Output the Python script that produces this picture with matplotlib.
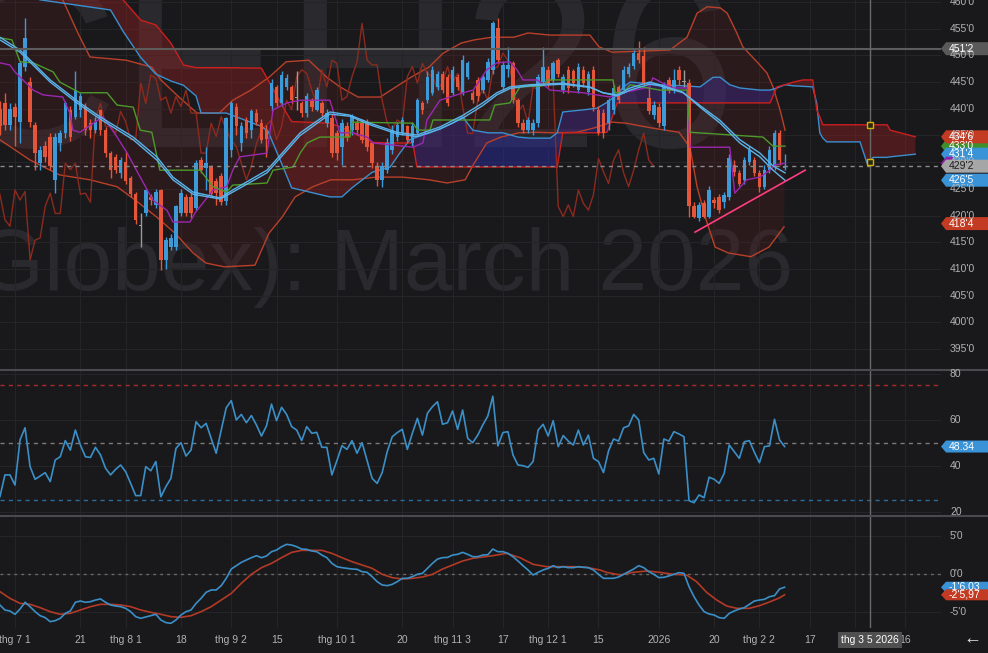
import numpy as np
import matplotlib
matplotlib.use("Agg")
import matplotlib.pyplot as plt
from matplotlib.patches import Polygon
from matplotlib.lines import Line2D
from matplotlib.transforms import IdentityTransform, blended_transform_factory

plt.rcParams['font.family'] = ['Liberation Sans', 'DejaVu Sans']

# ---------------- data (bar index 0 = 1 Jul 2025, trading days) ----------------
bar_start = -3
opn = [440.0, 441.0, 437.0, 440.4, 437.6, 447.9, 445.0, 437.0, 429.8, 433.0,
       434.8, 426.7, 433.5, 435.4, 439.8, 438.5, 439.8, 440.4, 437.3, 436.0,
       439.8, 436.0, 431.7, 431.0, 427.9, 430.0, 427.0, 424.0, 418.2, 420.4,
       423.5, 422.0, 424.8, 411.7, 414.2, 414.2, 420.4, 423.5, 423.5, 421.4,
       430.5, 429.0, 429.2, 426.5, 427.5, 422.7, 432.3, 440.4, 433.5, 437.9,
       436.0, 439.2, 437.3, 436.0, 440.5, 444.1, 441.0, 444.1, 444.1, 442.0,
       441.0, 439.2, 441.6, 439.8, 441.0, 437.3, 438.2, 435.4, 432.9, 436.7,
       436.0, 437.3, 437.3, 437.3, 433.5, 429.2, 426.7, 428.5, 432.3, 434.8,
       435.4, 436.7, 433.5, 435.4, 441.0, 441.6, 442.9, 444.1, 446.6, 446.0,
       442.9, 446.0, 442.9, 446.0, 442.9, 445.4, 443.5, 445.4, 447.3, 455.1,
       444.1, 447.5, 448.5, 441.6, 437.3, 436.0, 436.0, 437.3, 445.1, 447.3,
       445.4, 449.1, 443.5, 447.3, 447.0, 443.5, 447.3, 443.2, 447.3, 439.8,
       439.2, 437.3, 439.8, 444.1, 443.5, 446.6, 448.0, 450.4, 449.8, 442.0,
       438.8, 440.4, 436.7, 445.4, 443.5, 447.3, 445.0, 444.8, 421.7, 419.5,
       422.3, 419.8, 422.9, 423.5, 422.5, 423.5, 429.5, 427.9, 426.7, 430.0,
       430.4, 427.9, 425.4, 428.5, 429.2, 435.4, 428.9]
high = [441.5, 443.0, 441.0, 441.0, 449.0, 457.0, 446.0, 437.5, 433.0, 434.0,
        435.5, 435.5, 436.0, 441.5, 440.5, 447.0, 443.0, 441.0, 438.0, 438.5,
        440.0, 436.5, 432.0, 431.5, 431.0, 432.0, 427.5, 424.5, 420.4, 425.0,
        424.0, 425.0, 425.0, 416.0, 416.5, 422.0, 425.0, 424.0, 424.5, 430.5,
        431.0, 432.9, 429.5, 427.0, 428.0, 438.5, 441.5, 441.0, 437.5, 438.5,
        440.0, 440.0, 438.0, 437.0, 445.5, 444.5, 447.0, 446.5, 444.5, 447.0,
        441.5, 443.0, 442.0, 444.0, 441.5, 440.0, 439.0, 436.0, 438.0, 437.5,
        439.0, 438.0, 438.0, 438.0, 434.0, 430.0, 430.0, 434.5, 437.0, 437.5,
        438.5, 437.0, 437.5, 442.0, 441.5, 447.0, 448.0, 447.0, 447.0, 446.5,
        448.0, 446.5, 450.0, 449.0, 443.5, 446.0, 446.5, 449.5, 456.5, 457.0,
        449.0, 451.6, 449.0, 442.0, 438.0, 438.5, 438.0, 446.5, 451.6, 448.0,
        449.0, 449.5, 446.5, 448.0, 447.5, 448.5, 448.0, 447.0, 448.0, 440.5,
        440.0, 442.0, 444.5, 444.5, 448.0, 448.5, 451.0, 452.6, 451.5, 444.0,
        441.5, 441.0, 445.0, 446.0, 447.5, 448.0, 447.3, 445.5, 422.5, 422.5,
        423.0, 425.5, 423.5, 424.0, 424.5, 431.5, 430.5, 428.5, 431.0, 433.0,
        431.0, 428.5, 429.5, 433.0, 436.0, 436.0, 431.5]
low = [435.0, 436.0, 436.0, 433.0, 433.5, 447.0, 436.5, 428.5, 428.5, 430.0,
       428.5, 424.2, 432.0, 434.5, 434.0, 438.0, 438.5, 435.0, 434.5, 435.5,
       435.0, 431.0, 427.0, 428.0, 427.0, 426.0, 423.5, 418.5, 414.2, 420.0,
       422.0, 421.5, 409.8, 410.0, 413.5, 413.5, 420.0, 420.0, 419.5, 421.0,
       428.0, 424.8, 423.5, 422.0, 422.0, 422.0, 431.0, 435.0, 432.0, 434.5,
       434.5, 437.0, 433.5, 431.0, 439.5, 440.5, 440.5, 443.5, 441.0, 439.8,
       438.5, 438.5, 439.5, 439.5, 438.5, 436.5, 431.0, 430.5, 429.5, 434.0,
       435.0, 435.0, 433.5, 432.0, 429.0, 425.5, 425.4, 428.0, 431.5, 434.0,
       435.0, 433.5, 433.0, 435.0, 439.0, 441.0, 442.5, 443.5, 443.0, 440.5,
       442.5, 443.5, 442.5, 445.5, 441.0, 441.5, 443.0, 445.0, 446.5, 448.5,
       443.5, 446.0, 441.0, 436.5, 435.5, 435.5, 435.0, 436.5, 444.5, 444.0,
       445.0, 446.0, 443.0, 443.0, 444.0, 443.0, 444.0, 442.5, 439.5, 435.0,
       434.5, 436.0, 439.0, 441.0, 443.0, 446.0, 447.5, 448.5, 444.5, 439.0,
       438.0, 436.5, 436.0, 443.0, 443.0, 444.5, 444.0, 419.8, 419.5, 419.0,
       419.5, 419.5, 421.5, 420.5, 421.5, 423.0, 427.5, 425.5, 426.0, 429.5,
       427.5, 424.5, 425.0, 428.0, 428.5, 429.5, 428.5]
close = [436.7, 437.0, 440.0, 438.5, 448.5, 453.2, 437.6, 431.7, 432.3, 431.0,
         429.2, 434.8, 435.4, 441.0, 434.8, 443.5, 442.3, 436.0, 436.0, 437.6,
         436.0, 431.7, 428.5, 428.5, 430.5, 426.5, 424.0, 419.2, 418.0, 424.8,
         422.9, 424.5, 411.7, 415.4, 415.8, 421.7, 424.2, 420.4, 420.4, 429.8,
         428.6, 429.8, 424.0, 424.2, 422.5, 438.2, 441.0, 436.7, 436.7, 435.4,
         439.5, 437.6, 434.2, 434.3, 444.8, 441.0, 446.3, 445.7, 441.6, 442.2,
         439.2, 442.3, 440.4, 443.5, 439.2, 439.2, 431.7, 431.7, 437.3, 434.8,
         438.5, 436.0, 434.2, 432.9, 429.8, 426.7, 429.2, 433.5, 436.0, 437.0,
         437.9, 434.2, 436.7, 441.6, 439.8, 446.0, 447.3, 446.6, 443.5, 441.0,
         447.3, 444.1, 449.1, 448.5, 441.6, 442.3, 446.0, 448.8, 456.0, 449.1,
         448.2, 448.2, 441.6, 437.3, 436.0, 437.9, 437.3, 446.0, 447.9, 444.8,
         448.5, 446.6, 446.0, 443.8, 444.8, 447.9, 444.8, 446.6, 440.4, 435.4,
         435.4, 441.6, 443.8, 441.6, 447.3, 447.9, 450.4, 449.1, 444.8, 439.5,
         440.7, 437.3, 444.1, 443.5, 445.4, 445.4, 445.2, 421.7, 419.8, 422.0,
         419.8, 424.8, 422.3, 421.0, 423.9, 430.7, 428.2, 426.0, 430.4, 432.3,
         428.0, 425.4, 428.5, 432.3, 435.4, 430.4, 429.25]

rsi = [26.5, 36.0, 36.0, 31.6, 51.2, 56.5, 39.6, 34.1, 35.5, 37.0,
       33.1, 42.5, 43.9, 50.9, 46.8, 55.5, 49.0, 43.9, 43.6, 48.0,
       44.7, 38.9, 36.0, 38.4, 40.3, 37.4, 32.3, 27.0, 27.0, 39.6,
       37.8, 41.8, 26.5, 30.9, 34.5, 47.5, 50.0, 44.2, 46.8, 59.1,
       56.5, 58.4, 51.9, 45.4, 55.5, 65.2, 68.3, 59.9, 62.3, 58.7,
       61.8, 57.7, 52.9, 57.3, 66.8, 59.6, 65.4, 62.3, 57.0, 55.5,
       50.9, 57.0, 54.1, 54.5, 48.0, 48.0, 36.0, 42.2, 48.7, 47.1,
       50.9, 45.4, 50.0, 42.2, 34.5, 32.3, 37.0, 46.1, 52.6, 54.4,
       55.8, 47.1, 54.1, 60.6, 53.3, 62.8, 65.7, 67.8, 58.0, 58.7,
       63.8, 55.8, 64.2, 51.9, 50.0, 53.3, 57.7, 61.6, 70.2, 48.6,
       54.4, 54.8, 44.7, 40.3, 40.0, 39.3, 41.8, 55.5, 58.0, 52.9,
       59.6, 48.3, 53.1, 50.7, 49.0, 55.5, 49.0, 53.3, 43.2, 41.8,
       37.0, 46.4, 51.6, 50.7, 56.5, 57.3, 62.3, 59.9, 45.7, 42.5,
       43.2, 36.4, 51.6, 50.7, 54.8, 53.8, 52.6, 24.8, 23.9, 27.3,
       26.1, 35.0, 34.1, 32.3, 36.7, 49.0, 46.1, 43.2, 50.4, 50.9,
       45.8, 41.3, 48.3, 48.6, 60.2, 51.2, 48.34]

macd = [-4.10, -4.76, -4.89, -5.33, -4.63, -3.74, -4.32, -4.98, -5.51, -5.77,
        -6.30, -6.17, -5.86, -5.20, -4.89, -3.74, -3.57, -3.74, -3.66, -3.44,
        -3.30, -3.74, -4.10, -4.23, -4.32, -4.54, -4.98, -5.64, -5.86, -5.68,
        -5.51, -5.33, -6.08, -6.43, -6.52, -6.08, -5.42, -4.98, -4.76, -3.88,
        -3.22, -2.42, -2.11, -2.11, -1.54, -0.57, 0.66, 1.10, 1.54, 1.85,
        2.16, 2.42, 2.16, 2.38, 2.95, 3.17, 3.61, 3.92, 3.83, 3.61,
        3.30, 3.26, 3.04, 2.95, 2.51, 2.16, 1.41, 0.97, 0.84, 0.75,
        0.66, 0.62, 0.31, 0.22, -0.35, -1.01, -1.45, -1.54, -1.37, -1.01,
        -0.57, -0.57, -0.35, -0.04, 0.09, 0.75, 1.41, 1.98, 2.16, 2.20,
        2.51, 2.60, 2.86, 2.60, 2.29, 2.29, 2.51, 2.55, 3.30, 2.95,
        2.95, 2.73, 2.29, 1.72, 1.10, 0.53, -0.13, 0.22, 0.53, 0.75,
        1.10, 0.84, 0.97, 0.84, 0.84, 0.97, 0.88, 0.84, 0.53, -0.04,
        -0.57, -0.57, -0.57, -0.40, -0.04, 0.31, 0.66, 1.10, 0.84, 0.31,
        -0.04, -0.48, -0.44, -0.26, -0.04, 0.18, 0.09, -1.67, -3.00, -4.10,
        -4.98, -5.29, -5.42, -5.77, -5.86, -5.20, -4.89, -4.63, -4.45, -4.01,
        -3.57, -3.44, -3.35, -3.00, -2.86, -1.98, -1.75]

signal_x = [-3, -1, 1, 3, 5, 7, 9, 11, 13, 15, 17, 19, 21, 23, 25, 27, 29, 31, 33, 35,
            37, 39, 41, 43, 45, 47, 49, 51, 53, 55, 57, 59, 61, 63, 65, 67, 69, 71, 73, 75,
            77, 79, 81, 83, 85, 87, 89, 91, 93, 95, 97.7, 100.4, 103, 105.7, 108.3, 111,
            113.6, 116.3, 117.6, 120.3, 122.9, 125.6, 128.2, 130.9, 133.5, 135.5, 137.5,
            139.5, 141.5, 143.5, 146, 148, 150, 152, 153]
signal = [-2.33, -3.22, -3.88, -4.01, -4.45, -4.98, -5.33, -5.20, -4.76, -4.32, -4.01, -4.01,
          -4.10, -4.32, -4.76, -5.07, -5.33, -5.64, -5.73, -5.51, -4.98, -4.32, -3.44, -2.56,
          -1.23, -0.04, 0.84, 1.41, 2.16, 2.86, 3.13, 3.13, 3.13, 2.73, 2.16, 1.63, 1.19, 0.75,
          -0.04, -0.48, -0.66, -0.57, -0.40, -0.04, 0.66, 1.19, 1.72, 2.07, 2.25, 2.42, 2.73,
          2.16, 1.28, 0.97, 0.97, 0.97, 0.88, 0.53, 0.22, -0.13, 0.22, 0.40, 0.22, -0.04, -0.13,
          -1.01, -2.42, -3.44, -4.23, -4.54, -4.54, -4.19, -3.70, -3.15, -2.75]

# Ichimoku cloud (already displaced 26 bars forward)
cloud_x = [-3, 5, 19, 21, 21.5, 25, 28, 31, 33.5, 36, 37, 42, 49, 50.3, 53.3, 55, 62.6, 65,
           67, 71, 74.6, 76.5, 78.5, 79.1, 79.9, 82.5, 87, 89, 91, 94, 97, 100, 102.4, 106.4,
           107.8, 108.9, 113, 115.7, 117.7, 119.7, 121, 122.3, 128.2, 133, 136.2, 138.8,
           140.2, 142.1, 144.1, 148.1, 150.1, 151.5, 153.1, 154.7, 156.7, 158.6, 159.4, 160,
           160.6, 161.4, 168, 169.4, 170.6, 173.4, 174, 179]
senkou_a = [463.0, 460.4, 458.5, 455.3, 454.5, 449.6, 446.5, 445.2, 444.4, 442.4, 439.2,
            439.2, 436.7, 435.8, 429.1, 425.2, 423.5, 423.5, 425.2, 428.1, 429.1, 431.7,
            434.2, 434.4, 434.7, 435.5, 437.3, 438.5, 436.0, 435.5, 435.5, 434.7, 434.5,
            434.5, 435.5, 439.4, 439.8, 440.1, 441.2, 442.6, 444.1, 445.0, 444.5, 444.3,
            444.1, 445.9, 445.9, 444.5, 443.9, 443.5, 443.5, 443.9, 444.5, 444.3, 444.2,
            444.1, 441.0, 435.5, 434.5, 433.8, 433.8, 429.8, 430.9, 430.9, 431.0, 431.5]
senkou_b = [470.0, 468.0, 462.0, 460.9, 460.4, 456.6, 455.7, 452.3, 448.2, 447.7, 447.7,
            447.7, 447.6, 445.4, 440.3, 437.6, 437.3, 436.5, 435.6, 433.7, 433.6, 433.6,
            433.6, 433.6, 429.1, 429.1, 429.1, 429.1, 429.1, 429.1, 429.1, 429.1, 429.1,
            429.1, 429.1, 435.5, 435.5, 435.5, 435.6, 441.1, 441.1, 441.1, 441.1, 441.1,
            441.1, 441.1, 441.1, 441.1, 441.1, 441.1, 441.1, 444.1, 444.5, 445.0, 445.4,
            445.4, 439.8, 438.5, 437.0, 437.0, 437.0, 437.0, 437.0, 437.0, 436.0, 434.75]

tenkan_x = [-3, -1, 0, 3.6, 5.6, 9.5, 10.9, 11.5, 12.9, 17.5, 20.3, 22.3, 24.9, 27.4, 30.2,
            31.4, 34.8, 35.8, 39.4, 42.1, 43.3, 44.7, 50.1, 51.3, 54.1, 56.7, 62.6, 64.6, 67.2,
            70.0, 71.2, 79.1, 81.1, 81.9, 84.5, 89.1, 91.1, 93.8, 95.8, 98.4, 99.8, 101.0,
            103.8, 106.4, 112.9, 118.3, 120.9, 126.2, 126.8, 128.8, 130.8, 133.6, 134.2, 142.1,
            143.1, 145.5, 148.1, 150.1, 151.1, 153.1]
tenkan = [448.6, 448.2, 446.9, 443.5, 442.6, 442.2, 439.2, 436.0, 435.6, 438.5, 434.7, 431.7,
          427.2, 422.9, 421.0, 418.8, 418.8, 420.5, 424.8, 425.4, 428.5, 431.0, 431.7, 439.8,
          441.1, 441.6, 441.6, 435.5, 435.5, 434.7, 433.6, 432.8, 433.6, 437.9, 441.6, 443.0,
          443.5, 447.3, 448.6, 448.8, 447.3, 445.4, 445.4, 443.5, 443.0, 442.2, 443.0, 444.1,
          445.8, 444.8, 443.9, 443.9, 432.8, 432.8, 424.2, 426.7, 427.2, 428.5, 429.5, 429.8]

kijun_x = [-3, -0.6, 1.0, 3.6, 7.6, 8.9, 12.9, 18.3, 20.3, 23.5, 24.9, 27.2, 28.8, 36.8, 39.4,
           42.1, 43.3, 50.1, 51.3, 55.3, 56.7, 58.1, 60.6, 66.6, 67.0, 79.1, 80.1, 82.5, 83.1,
           94.4, 95.4, 98.4, 100.4, 105.0, 105.8, 118.9, 119.3, 120.9, 122.3, 128.2, 133.6,
           134.2, 148.7, 150.7, 153.1]
kijun = [453.3, 452.9, 448.8, 448.6, 446.9, 445.0, 443.0, 443.0, 440.7, 440.3, 436.0, 435.6,
         428.5, 428.5, 425.4, 424.4, 425.7, 426.1, 428.5, 429.1, 431.7, 433.6, 434.7, 434.7,
         437.5, 437.3, 436.0, 436.0, 437.9, 437.9, 440.7, 441.1, 444.1, 444.3, 445.4, 445.4,
         443.0, 443.0, 444.5, 443.5, 443.5, 435.6, 434.7, 433.0, 433.0]

ma_x = [-3, 1, 7, 12.9, 16.9, 23.5, 28.2, 31.4, 35.4, 40.8, 43.3, 50.1, 56.7, 62.6, 66.6, 70.6,
        75.9, 79.9, 84.5, 89.1, 93, 95.8, 98.4, 102.4, 108.9, 114.3, 116.9, 119.7, 122.3,
        126.2, 128.2, 132.8, 136.2, 140.2, 144.1, 148.1, 150.7, 153.1]
ma_fast = [453.4, 451.0, 445.4, 441.1, 438.5, 434.7, 431.0, 427.2, 424.4, 423.3, 424.8, 428.5,
           435.5, 439.4, 438.8, 437.3, 435.6, 435.1, 436.6, 438.8, 441.1, 443.0, 444.1, 444.5,
           444.8, 444.1, 443.0, 442.6, 443.9, 445.0, 444.5, 443.1, 440.3, 437.3, 433.6, 431.0,
           428.5, 426.6]
ma_slow = [452.9, 450.6, 445.0, 440.7, 438.1, 434.2, 430.4, 426.7, 424.0, 423.1, 424.4, 428.0,
           435.0, 439.0, 438.6, 437.0, 435.3, 434.8, 436.2, 438.3, 440.6, 442.6, 443.8, 444.3,
           444.6, 444.0, 443.0, 442.4, 443.5, 444.6, 444.3, 443.0, 440.6, 437.8, 434.2, 431.7,
           429.3, 428.0]

bb_up_x = [-3, 9.5, 12.5, 14.9, 22.1, 27.2, 29.0, 32.6, 36.2, 40.6, 43.3, 46.9, 50.5, 53.9,
           58.4, 62.0, 64.6, 68.2, 72.6, 78.7, 82.3, 85.1, 88.7, 91.3, 94.8, 99.2, 102.0, 106.4,
           114.3, 116.1, 118.7, 130.2, 133.6, 135.6, 137.6, 140.2, 141.6, 143.5, 144.7, 147.7,
           149.5, 150.7, 152.1, 153.1]
bb_up = [464.0, 460.4, 454.2, 449.7, 449.1, 447.8, 445.4, 442.2, 439.2, 439.2, 441.6, 443.5,
         445.9, 448.8, 449.1, 445.9, 444.1, 442.2, 442.2, 445.9, 447.8, 450.4, 452.3, 452.9,
         453.4, 453.4, 454.2, 453.8, 453.8, 451.6, 450.6, 451.0, 453.4, 457.9, 459.1, 458.9,
         457.9, 454.2, 451.6, 448.6, 446.7, 444.1, 439.8, 436.0]
bb_lo_x = [-3, 3.0, 8.9, 14.9, 20.3, 23.9, 28.2, 31.8, 35.4, 38.0, 41.6, 47.7, 50.5, 53.1,
           55.7, 59.2, 62.8, 67.2, 71.8, 77.0, 82.3, 85.9, 89.5, 91.3, 93.8, 96.6, 100.2,
           103.6, 107.2, 111.7, 115.1, 118.7, 121.5, 126.6, 132.0, 134.2, 135.6, 137.4, 139.2,
           141.8, 146.3, 149.9, 152.9]
bb_lo = [434.2, 430.4, 427.6, 426.7, 425.4, 422.9, 419.7, 416.7, 413.0, 411.1, 410.4, 410.7,
         416.7, 419.7, 423.5, 425.4, 426.7, 426.7, 427.2, 427.2, 426.7, 426.1, 426.7, 429.8,
         433.6, 434.7, 435.5, 435.6, 435.5, 435.6, 436.4, 437.5, 437.3, 436.4, 435.6, 432.8,
         425.4, 419.2, 414.1, 413.0, 412.3, 414.1, 417.9]

trend_x = [135.2, 157.1]
trend_y = [416.9, 428.5]

date_ticks = [0, 13, 22, 33, 43, 52, 64, 77, 87, 97, 106, 116, 128, 139, 148, 158, 167, 177]
date_labels = ['thg 7 1', '21', 'thg 8 1', '18', 'thg 9 2', '15', 'thg 10 1', '20',
               'thg 11 3', '17', 'thg 12 1', '15', '2026', '20', 'thg 2 2', '17',
               '', '16']
cross_x = 170
cross_price = 451.25
last_price = 429.25

# ---------------- style ----------------
W, H = 988, 653
PLOT_R = 941
BG = '#19191c'
GRID = '#252528'
TXT = '#b2b2b2'
UP, DOWN, DOJI = '#3d9ad9', '#e4553a', '#9a9a9a'

fig = plt.figure(figsize=(W / 100, H / 100), dpi=100)
fig.patch.set_facecolor(BG)


def panel(top, bottom):
    a = fig.add_axes([0, 1 - bottom / H, PLOT_R / W, (bottom - top) / H])
    a.set_facecolor(BG)
    for s in a.spines.values():
        s.set_visible(False)
    a.tick_params(length=0, labelleft=False, labelbottom=False)
    a.set_xlim(-2.98, 184.1)
    a.set_xticks(date_ticks)
    a.set_axisbelow(True)
    a.grid(True, color=GRID, lw=0.8)
    a.axvline(cross_x, color='#6a6a6a', lw=1, zorder=6)
    return a


ax = panel(0, 370)
ax_rsi = panel(370, 516)
ax_macd = panel(516, 628)

ax.set_ylim(391.08, 460.37)
price_ticks = np.arange(395, 461, 5)
ax.set_yticks(price_ticks)
ax_rsi.set_ylim(18.13, 81.61)
ax_rsi.set_yticks([20, 40, 60, 80])
ax_macd.set_ylim(-7.14, 7.67)
ax_macd.set_yticks([-5, 0, 5])

# watermark
WM = '#2a2a2e'
ax.text(737 / PLOT_R, (370 - 147) / 370, 'ZCEH26', transform=ax.transAxes, ha='right',
        va='baseline', fontsize=178, color=WM, zorder=0.2)
ax.text(793 / PLOT_R, (370 - 290) / 370, 'Corn (CBOT Globex): March 2026',
        transform=ax.transAxes, ha='right', va='baseline', fontsize=63, color=WM, zorder=0.2)

# ichimoku cloud
cx = np.array(cloud_x)
sa = np.array(senkou_a)
sb = np.array(senkou_b)
ax.fill_between(cx, sa, sb, where=sa >= sb, interpolate=True, color='#2a2a9c', alpha=0.5,
                lw=0, zorder=1)
ax.fill_between(cx, sa, sb, where=sa < sb, interpolate=True, color='#8a1f1f', alpha=0.45,
                lw=0, zorder=1)

# bollinger bands
ax.fill(np.r_[bb_up_x, bb_lo_x[::-1]], np.r_[bb_up, bb_lo[::-1]], color='#6a2020',
        alpha=0.22, lw=0, zorder=1.1)
ax.plot(bb_up_x, bb_up, color='#b8402a', lw=1, zorder=2)
ax.plot(bb_lo_x, bb_lo, color='#b8402a', lw=1, zorder=2)

# chikou span: closes shifted back 26 bars
idx = np.arange(bar_start, bar_start + len(close))
ax.plot(idx - 26, close, color='#8c2a1e', lw=1, zorder=2)

ax.plot(cx, sa, color='#3a8fd0', lw=1, zorder=2.2)
ax.plot(cx, sb, color='#cc1f1f', lw=1, zorder=2.2)

# candles
o = np.array(opn)
c = np.array(close)
cols = np.where(np.abs(c - o) < 0.3, DOJI, np.where(c > o, UP, DOWN))
ax.vlines(idx, low, high, colors=cols, lw=1, zorder=3)
ax.bar(idx, np.maximum(np.abs(c - o), 0.2), bottom=np.minimum(o, c), width=0.7,
       color=cols, lw=0, zorder=3.1)

ax.plot(tenkan_x, tenkan, color='#9c27b0', lw=1, zorder=4)
ax.plot(kijun_x, kijun, color='#4c9a2a', lw=1, zorder=4)
ax.plot(ma_x, ma_fast, color='#5ab4ea', lw=1, zorder=4.1)
ax.plot(ma_x, ma_slow, color='#5ab4ea', lw=1, zorder=4.1)
ax.plot(trend_x, trend_y, color='#ff3d7f', lw=1.2, zorder=5)

ax.axhline(last_price, color='#8a8a8a', lw=1, ls=(0, (3, 3)), zorder=5)
ax.axhline(cross_price, color='#5c5c5c', lw=1.5, zorder=5)
ax.plot([cross_x, cross_x], [437.0, 430.1], ls='none', marker='s', ms=4.5, mfc='#2a2810',
        mec='#d4b000', mew=1, zorder=7)

# RSI
ax_rsi.plot(idx, rsi, color='#3b8fc7', lw=1.2, zorder=3)
ax_rsi.axhline(75, color='#a82a2a', lw=1, ls=(0, (3, 3)))
ax_rsi.axhline(50, color='#7a7a7a', lw=1, ls=(0, (3, 3)))
ax_rsi.axhline(25, color='#2c6c9c', lw=1, ls=(0, (3, 3)))

# MACD
ax_macd.axhline(0, color='#6a6a6a', lw=1, ls=(0, (2, 3)))
ax_macd.plot(signal_x, signal, color='#b23a26', lw=1.2, zorder=3)
ax_macd.plot(idx, macd, color='#3b8fc7', lw=1.2, zorder=3.1)

# panel separators
for yy in (370, 516):
    fig.add_artist(Line2D([0, 1], [1 - yy / H] * 2, color='#4a4a4e', lw=1.5,
                          transform=fig.transFigure))

# right-hand axis labels and value tags
IDT = IdentityTransform()


def ylab(a, val, txt):
    y = a.transData.transform((0, val))[1]
    fig.text(950, y, txt, transform=IDT, color=TXT, fontsize=7.5, va='center', ha='left')


def tag(a, val, txt, fc, tc='white', hh=6.5, width=W):
    y = a.transData.transform((0, val))[1]
    fig.add_artist(Polygon([(PLOT_R, y), (PLOT_R + 5, y + hh), (width, y + hh),
                            (width, y - hh), (PLOT_R + 5, y - hh)], closed=True, fc=fc,
                           ec='none', transform=IDT))
    if txt:
        fig.text(949, y, txt, transform=IDT, color=tc, fontsize=7.5, va='center',
                 ha='left')


for v in price_ticks:
    ylab(ax, v, f"{v}'0")
for v in (20, 40, 60, 80):
    ylab(ax_rsi, v, str(v))
for v, t in ((5, "5'0"), (0, "0'0"), (-5, "-5'0")):
    ylab(ax_macd, v, t)

tag(ax, cross_price, "451'2", '#5a5a5a')
tag(ax, 433.0, "433'0", '#3f8f2a')
tag(ax, 434.75, "434'6", '#c23b22')
tag(ax, 431.5, "431'4", '#3a93d6')
tag(ax, 429.8, '', '#8e24aa', width=PLOT_R + 12)
tag(ax, last_price, "429'2", '#a6a6a6', tc='#1e1e1e')
tag(ax, 426.625, "426'5", '#3a93d6')
tag(ax, 418.5, "418'4", '#c23b22')
tag(ax_rsi, 48.34, '48.34', '#3a93d6', hh=6)
tag(ax_macd, -1.75, "-1'6.03", '#3a93d6', hh=5.5)
tag(ax_macd, -2.75, "-2'5,97", '#c23b22', hh=5.5)

# date labels under the last panel
xt = blended_transform_factory(ax_macd.transData, fig.transFigure)
for i, t in zip(date_ticks, date_labels):
    if t:
        fig.text(i, 1 - 640 / H, t, transform=xt, color=TXT, fontsize=7.5, ha='center',
                 va='center')
fig.text(cross_x, 1 - 640 / H, 'thg 3 5 2026', transform=xt, color='white', fontsize=7.5,
         ha='center', va='center',
         bbox=dict(boxstyle='square,pad=0.3', fc='#505050', ec='none'))
fig.text(972 / W, 1 - 639 / H, '\u2190', color='#e0e0e0', fontsize=13, ha='center',
         va='center')

fig.savefig('out.png', dpi=100, facecolor=BG)
